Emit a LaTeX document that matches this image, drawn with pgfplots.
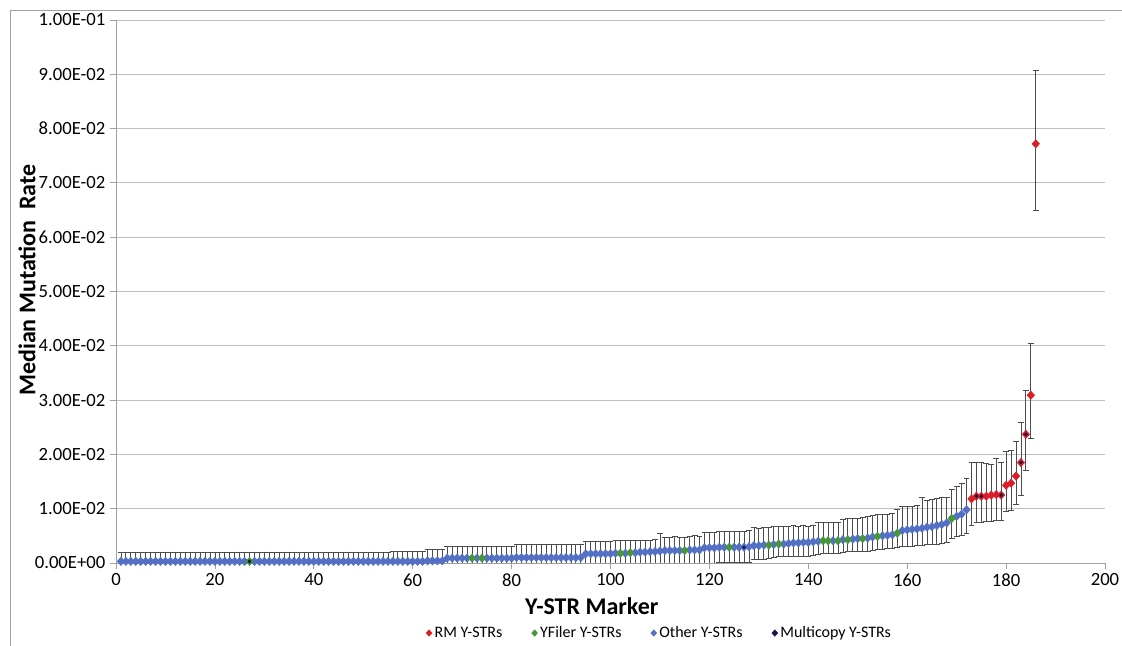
\documentclass[border=0pt]{standalone}
\usepackage{pgfplots}
\usepackage{pgfplotstable}
\pgfplotsset{compat=1.18}
\usepackage{fontspec}
\setmainfont{Carlito}
\definecolor{rmred}{RGB}{218,30,38}
\definecolor{yfgreen}{RGB}{72,150,60}
\definecolor{otherblue}{RGB}{84,112,196}
\definecolor{mcnavy}{RGB}{20,24,70}
\definecolor{gridgray}{RGB}{190,190,190}
\definecolor{axgray}{RGB}{160,160,160}

\pgfplotstableread{
x y ep em
1 0.0003 0.0016 0.0016
2 0.0003 0.0016 0.0016
3 0.0003 0.0016 0.0016
4 0.0003 0.0016 0.0016
5 0.0003 0.0016 0.0016
6 0.0003 0.0016 0.0016
7 0.0003 0.0016 0.0016
8 0.0003 0.0016 0.0016
9 0.0003 0.0016 0.0016
10 0.0003 0.0016 0.0016
11 0.0003 0.0016 0.0016
12 0.0003 0.0016 0.0016
13 0.0003 0.0016 0.0016
14 0.0003 0.0016 0.0016
15 0.0003 0.0016 0.0016
16 0.0003 0.0016 0.0016
17 0.0003 0.0016 0.0016
18 0.0003 0.0016 0.0016
19 0.0003 0.0016 0.0016
20 0.0003 0.0016 0.0016
21 0.0003 0.0016 0.0016
22 0.0003 0.0016 0.0016
23 0.0003 0.0016 0.0016
24 0.0003 0.0016 0.0016
25 0.0003 0.0016 0.0016
26 0.0003 0.0016 0.0016
28 0.0003 0.0016 0.0016
29 0.0003 0.0016 0.0016
30 0.0003 0.0016 0.0016
31 0.0003 0.0016 0.0016
32 0.0003 0.0016 0.0016
33 0.0003 0.0016 0.0016
34 0.0003 0.0016 0.0016
35 0.0003 0.0016 0.0016
36 0.0003 0.0016 0.0016
37 0.0003 0.0016 0.0016
38 0.0003 0.0016 0.0016
39 0.0003 0.0016 0.0016
40 0.0003 0.0016 0.0016
41 0.0003 0.0016 0.0016
42 0.0003 0.0016 0.0016
43 0.0003 0.0016 0.0016
44 0.0003 0.0016 0.0016
45 0.0003 0.0016 0.0016
46 0.0003 0.0016 0.0016
47 0.0003 0.0016 0.0016
48 0.0003 0.0016 0.0016
49 0.0003 0.0016 0.0016
50 0.0003 0.0016 0.0016
51 0.0003 0.0016 0.0016
52 0.0003 0.0016 0.0016
53 0.0003 0.0016 0.0016
54 0.0003 0.0016 0.0016
55 0.0003 0.0016 0.0016
56 0.0003 0.0018 0.0018
57 0.0003 0.0018 0.0018
58 0.0003 0.0018 0.0018
59 0.0003 0.0018 0.0018
60 0.0003 0.0018 0.0018
61 0.0003 0.0018 0.0018
62 0.0003 0.0018 0.0018
63 0.0004 0.0021 0.0021
64 0.0004 0.0021 0.0021
65 0.0004 0.0021 0.0021
66 0.0004 0.0021 0.0021
67 0.0009 0.0022 0.0022
68 0.0009 0.0022 0.0022
69 0.0009 0.0022 0.0022
70 0.0009 0.0022 0.0022
71 0.0009 0.0022 0.0022
73 0.0009 0.0022 0.0022
75 0.0009 0.0022 0.0022
76 0.0009 0.0022 0.0022
77 0.0009 0.0022 0.0022
78 0.0009 0.0022 0.0022
79 0.0009 0.0022 0.0022
80 0.0009 0.0022 0.0022
81 0.0010 0.0024 0.0024
82 0.0010 0.0024 0.0024
83 0.0010 0.0024 0.0024
84 0.0010 0.0024 0.0024
85 0.0010 0.0024 0.0024
86 0.0010 0.0024 0.0024
87 0.0010 0.0024 0.0024
88 0.0010 0.0024 0.0024
89 0.0010 0.0024 0.0024
90 0.0010 0.0024 0.0024
91 0.0010 0.0024 0.0024
92 0.0010 0.0024 0.0024
93 0.0010 0.0024 0.0024
94 0.0010 0.0024 0.0024
95 0.0017 0.0023 0.0023
96 0.0017 0.0023 0.0023
97 0.0017 0.0023 0.0023
98 0.0017 0.0023 0.0023
99 0.0017 0.0023 0.0023
100 0.0017 0.0023 0.0023
101 0.0018 0.0023 0.0023
103 0.0018 0.0023 0.0023
105 0.0019 0.0022 0.0024
106 0.0020 0.0021 0.0024
107 0.0020 0.0021 0.0024
108 0.0021 0.0021 0.0024
109 0.0021 0.0022 0.0024
110 0.0022 0.0033 0.0030
111 0.0023 0.0025 0.0025
112 0.0023 0.0025 0.0025
113 0.0023 0.0026 0.0025
114 0.0023 0.0025 0.0025
116 0.0024 0.0025 0.0025
117 0.0024 0.0026 0.0025
118 0.0024 0.0025 0.0025
119 0.0028 0.0029 0.0028
120 0.0028 0.0029 0.0028
121 0.0028 0.0029 0.0028
122 0.0029 0.0029 0.0028
123 0.0029 0.0029 0.0028
125 0.0029 0.0029 0.0028
126 0.0029 0.0030 0.0028
127 0.0029 0.0029 0.0028
128 0.0030 0.0030 0.0028
129 0.0032 0.0033 0.0026
130 0.0032 0.0032 0.0026
131 0.0033 0.0032 0.0026
133 0.0034 0.0033 0.0024
135 0.0035 0.0032 0.0023
136 0.0036 0.0032 0.0023
137 0.0037 0.0032 0.0024
138 0.0037 0.0031 0.0024
139 0.0038 0.0031 0.0025
140 0.0038 0.0030 0.0025
141 0.0039 0.0031 0.0025
142 0.0040 0.0035 0.0024
145 0.0041 0.0034 0.0024
147 0.0043 0.0037 0.0023
149 0.0044 0.0039 0.0023
150 0.0045 0.0038 0.0023
152 0.0046 0.0039 0.0024
153 0.0048 0.0039 0.0024
155 0.0050 0.0039 0.0025
156 0.0051 0.0039 0.0025
157 0.0052 0.0040 0.0026
159 0.0060 0.0044 0.0029
160 0.0061 0.0043 0.0030
161 0.0062 0.0043 0.0031
162 0.0063 0.0043 0.0031
163 0.0064 0.0056 0.0031
164 0.0066 0.0050 0.0032
165 0.0067 0.0051 0.0033
166 0.0069 0.0050 0.0034
167 0.0071 0.0049 0.0035
168 0.0074 0.0046 0.0036
170 0.0086 0.0055 0.0037
171 0.0090 0.0057 0.0040
172 0.0098 0.0058 0.0043
}\othertab

\pgfplotstableread{
x y ep em
27 0.0003 0.0016 0.0016
72 0.0009 0.0022 0.0022
74 0.0009 0.0022 0.0022
102 0.0018 0.0023 0.0023
104 0.0019 0.0023 0.0023
115 0.0023 0.0025 0.0025
124 0.0029 0.0029 0.0028
132 0.0033 0.0032 0.0025
134 0.0035 0.0032 0.0023
143 0.0041 0.0034 0.0024
144 0.0041 0.0034 0.0024
146 0.0041 0.0034 0.0024
148 0.0043 0.0039 0.0022
151 0.0045 0.0039 0.0024
154 0.0049 0.0040 0.0024
158 0.0055 0.0043 0.0027
169 0.0082 0.0053 0.0036
}\yfilertab

\pgfplotstableread{
x y ep em
173 0.0118 0.0068 0.0048
174 0.0123 0.0063 0.0049
175 0.0123 0.0062 0.0048
176 0.0123 0.0060 0.0046
177 0.0125 0.0056 0.0048
178 0.0126 0.0066 0.0047
179 0.0125 0.0061 0.0046
180 0.0143 0.0063 0.0048
181 0.0147 0.0061 0.0050
182 0.0160 0.0064 0.0052
183 0.0185 0.0074 0.0060
184 0.0237 0.0080 0.0067
185 0.0309 0.0096 0.0079
186 0.0772 0.0135 0.0122
}\rmtab

\pgfplotstableread{
x y
27 0.0003
127 0.0029
174 0.0123
175 0.0123
179 0.0125
183 0.0185
184 0.0237
}\multitab

\begin{document}
\begin{tikzpicture}
\useasboundingbox (0,0) rectangle (841.5pt,484.5pt);
\draw[axgray, line width=0.6pt] (7.5pt,0pt) -- (7.5pt,477pt) -- (841.5pt,477pt);
\begin{axis}[
  at={(87pt,62.25pt)}, anchor=south west,
  scale only axis, width=741.75pt, height=407.25pt,
  xmin=0, xmax=200, ymin=0, ymax=0.1,
  axis x line*=bottom, axis y line*=left,
  axis line style={axgray, line width=0.6pt},
  xtick={0,20,40,60,80,100,120,140,160,180,200},
  ytick={0,0.01,0.02,0.03,0.04,0.05,0.06,0.07,0.08,0.09,0.1},
  yticklabels={0.00E+00,1.00E-02,2.00E-02,3.00E-02,4.00E-02,5.00E-02,6.00E-02,7.00E-02,8.00E-02,9.00E-02,1.00E-01},
  tick align=outside, major tick length=4.5pt,
  tick style={axgray, line width=0.6pt},
  ymajorgrids, grid style={gridgray, line width=0.6pt},
  /pgf/number format/assume math mode=true,
  ticklabel style={font=\fontsize{14}{16}\selectfont},
  scaled y ticks=false,
  xlabel={Y-STR Marker},
  ylabel={Median Mutation\ \ Rate},
  xlabel style={at={(axis description cs:0.481,-0.079)}, anchor=center, font=\fontsize{18}{20}\selectfont\bfseries},
  ylabel style={at={(axis description cs:-0.090,0.521)}, anchor=center, rotate=0, font=\fontsize{18}{20}\selectfont\bfseries},
  legend image code/.code={\draw[#1] plot coordinates {(0.15cm,0cm)};},
  legend style={at={(axis description cs:0.550,-0.129)}, anchor=center, draw=none, fill=none,
    font=\fontsize{12}{14}\selectfont, legend columns=4,
    /tikz/every even column/.append style={column sep=20pt}},
  legend cell align=left,
  clip=true,
]
\addlegendimage{draw=none, mark=diamond*, mark size=2.4pt, mark options={xscale=1.2, fill=rmred, draw=rmred}}
\addlegendentry{RM Y-STRs}
\addlegendimage{draw=none, mark=diamond*, mark size=2.4pt, mark options={xscale=1.2, fill=yfgreen, draw=yfgreen}}
\addlegendentry{YFiler Y-STRs}
\addlegendimage{draw=none, mark=diamond*, mark size=2.4pt, mark options={xscale=1.2, fill=otherblue, draw=otherblue}}
\addlegendentry{Other Y-STRs}
\addlegendimage{draw=none, mark=diamond*, mark size=2.4pt, mark options={xscale=1.2, fill=mcnavy, draw=mcnavy}}
\addlegendentry{Multicopy Y-STRs}

\pgfplotsset{
  errstyle/.style={
    error bars/.cd, y dir=both, y explicit,
    error bar style={line width=0.6pt, black!70},
    error mark options={rotate=90, mark size=2.2pt, line width=0.6pt, black!70}
  }
}
\addplot[forget plot, only marks, mark=diamond*, mark size=3.1pt,
  mark options={xscale=1.2, fill=otherblue, draw=otherblue}, errstyle]
  table[x=x, y=y, y error plus=ep, y error minus=em] {\othertab};
\addplot[forget plot, only marks, mark=diamond*, mark size=3.1pt,
  mark options={xscale=1.2, fill=yfgreen, draw=yfgreen}, errstyle]
  table[x=x, y=y, y error plus=ep, y error minus=em] {\yfilertab};
\addplot[forget plot, only marks, mark=diamond*, mark size=3.1pt,
  mark options={xscale=1.2, fill=rmred, draw=rmred}, errstyle]
  table[x=x, y=y, y error plus=ep, y error minus=em] {\rmtab};
\addplot[forget plot, only marks, mark=diamond*, mark size=1.2pt,
  mark options={xscale=1.3, fill=mcnavy, draw=mcnavy}]
  table[x=x, y=y] {\multitab};
\end{axis}
\end{tikzpicture}
\end{document}
